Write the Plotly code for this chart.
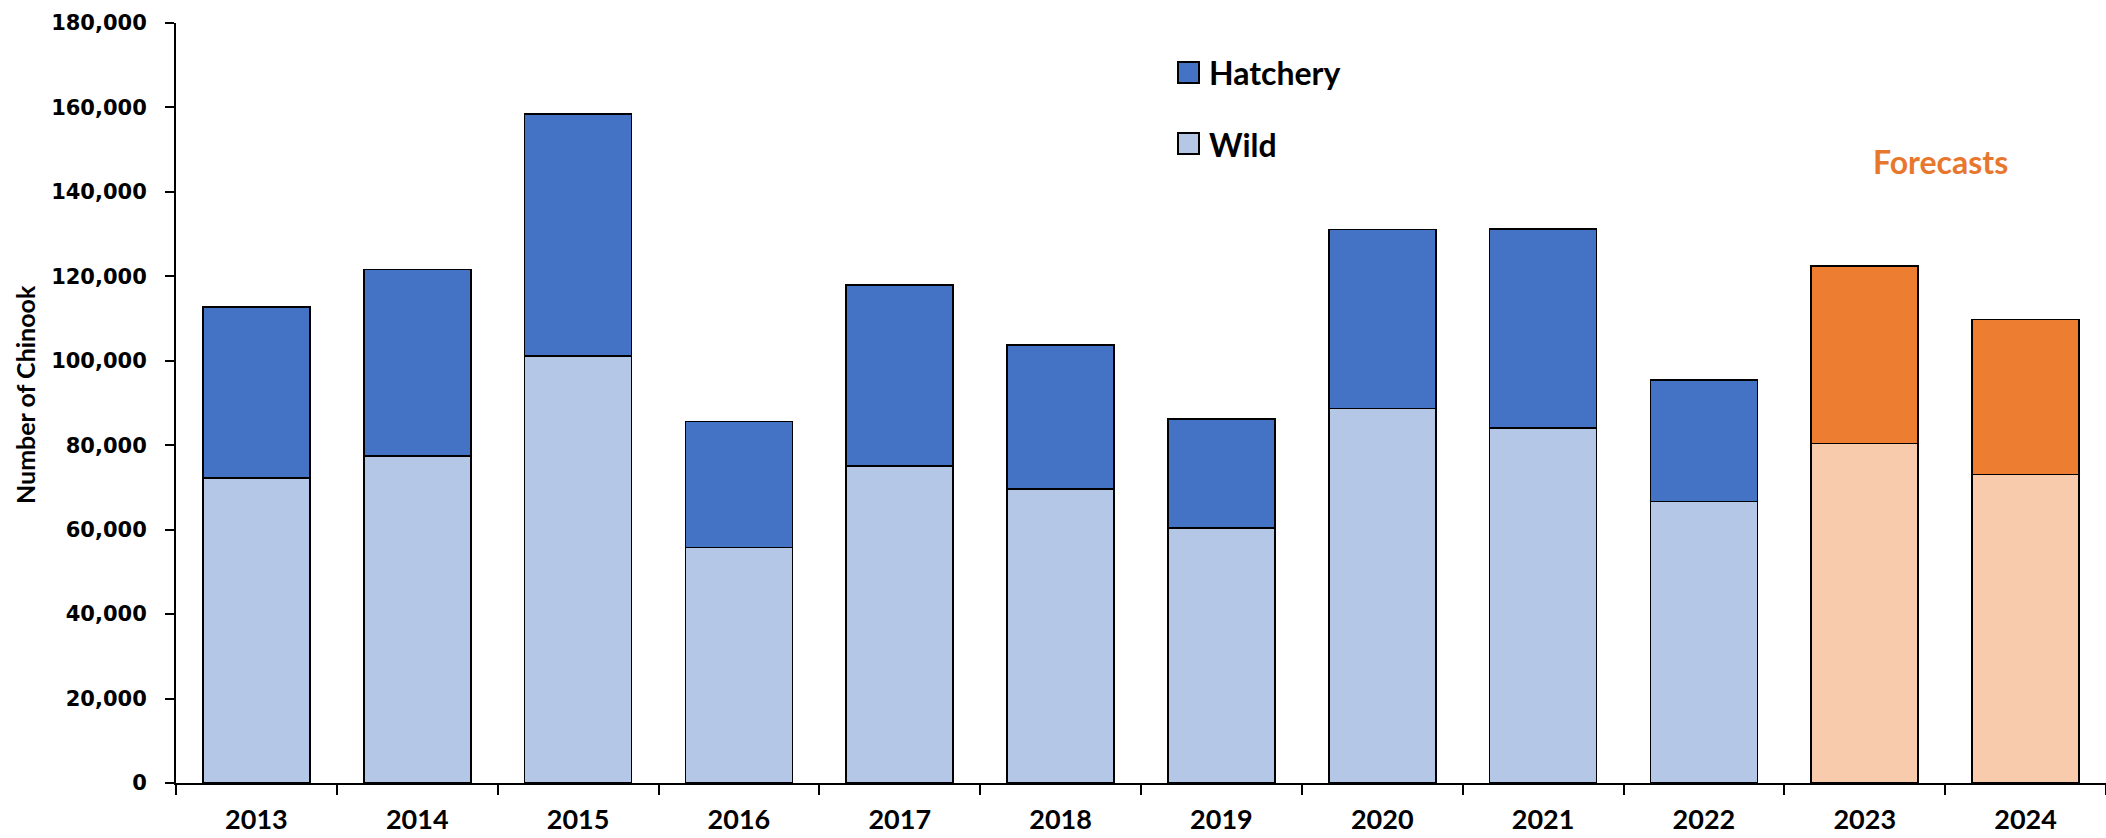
import plotly.graph_objects as go

# Chinook returns by year (wild + hatchery); last two years are forecasts
years = ["2013", "2014", "2015", "2016", "2017", "2018",
         "2019", "2020", "2021", "2022", "2023", "2024"]
wild = [72300, 77500, 101100, 55800, 75000, 69700,
        60400, 88700, 84000, 66700, 80400, 73100]
hatchery = [40500, 44100, 57300, 29800, 42900, 34000,
            25800, 42400, 47200, 28700, 42000, 36700]
is_forecast = [False] * 10 + [True] * 2

y_ticks = list(range(0, 180001, 20000))

WILD_BLUE = "#B4C7E7"
HATCH_BLUE = "#4472C4"
WILD_ORANGE = "#F8CBAD"
HATCH_ORANGE = "#ED7D31"

wild_colors = [WILD_ORANGE if f else WILD_BLUE for f in is_forecast]
hatch_colors = [HATCH_ORANGE if f else HATCH_BLUE for f in is_forecast]

W, H = 2106, 838
M_L, M_R, M_T, M_B = 176, 0, 23, 55
PW, PH = W - M_L - M_R, H - M_T - M_B


def px_x(px):
    return (px - M_L) / PW


def px_y(py):
    return (H - M_B - py) / PH


fig = go.Figure()
fig.add_trace(go.Bar(
    x=years, y=wild, name="Wild",
    marker=dict(color=wild_colors, line=dict(color="black", width=1.7)),
    showlegend=False,
))
fig.add_trace(go.Bar(
    x=years, y=hatchery, name="Hatchery",
    marker=dict(color=hatch_colors, line=dict(color="black", width=1.7)),
    showlegend=False,
))

# Legend drawn as swatches + labels
legend_items = [("Hatchery", HATCH_BLUE, 62), ("Wild", WILD_BLUE, 133)]
shapes = []
annotations = []
for label, color, top in legend_items:
    shapes.append(dict(
        type="rect", xref="paper", yref="paper",
        x0=px_x(1178), x1=px_x(1199), y0=px_y(top + 21), y1=px_y(top),
        fillcolor=color, line=dict(color="black", width=2),
    ))
    annotations.append(dict(
        text=label, xref="paper", yref="paper",
        x=px_x(1207), y=px_y(top + 11), xanchor="left", yanchor="middle",
        showarrow=False,
        font=dict(family="Lato", size=32, color="black", weight="bold"),
    ))

annotations.append(dict(
    text="Forecasts", xref="paper", yref="paper",
    x=px_x(1940), y=px_y(162), xanchor="center", yanchor="middle",
    showarrow=False,
    font=dict(family="Lato", size=32, color="#E8772E", weight="bold"),
))

annotations.append(dict(
    text="Number of Chinook", xref="paper", yref="paper",
    x=px_x(25), y=px_y(395), xanchor="center", yanchor="middle",
    textangle=-90, showarrow=False,
    font=dict(family="Lato", size=25, color="black", weight="bold"),
))

fig.update_layout(
    width=W, height=H,
    margin=dict(l=M_L, r=M_R, t=M_T, b=M_B, pad=0),
    paper_bgcolor="white", plot_bgcolor="white",
    barmode="stack", bargap=0.335,
    shapes=shapes, annotations=annotations,
    showlegend=False,
)
fig.update_xaxes(
    type="category", range=[-0.5, 11.5],
    showline=True, linecolor="black", linewidth=2,
    ticks="outside", tickson="boundaries", ticklen=10, tickwidth=2,
    tickcolor="black", showgrid=False, zeroline=False,
    tickfont=dict(family="Lato", size=27, color="black", weight="bold"),
    ticklabelstandoff=12,
)
fig.update_yaxes(
    range=[0, 180000], tickvals=y_ticks, tickformat=",d",
    showline=True, linecolor="black", linewidth=2,
    ticks="outside", ticklen=9, tickwidth=2, tickcolor="black",
    showgrid=False, zeroline=False,
    tickfont=dict(family="DejaVu Sans", size=21, color="black", weight="bold"),
    ticklabelstandoff=14,
)

fig.write_html("out.html")
